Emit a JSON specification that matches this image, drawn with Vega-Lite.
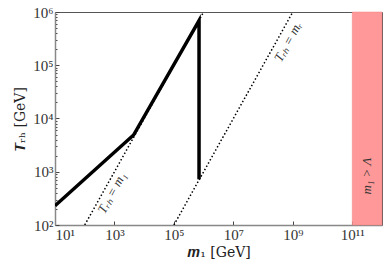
{
  "$schema": "https://vega.github.io/schema/vega-lite/v6.json",
  "width": 327,
  "height": 213,
  "autosize": {"type": "none"},
  "padding": {"left": 55, "top": 12, "right": 7, "bottom": 49},
  "background": "white",
  "config": {
    "view": {"stroke": "#555", "strokeWidth": 1},
    "axis": {
      "grid": false,
      "domainColor": "#888",
      "domainWidth": 1.5,
      "tickColor": "#444",
      "labelFont": "Liberation Serif",
      "labelFontSize": 15,
      "labelColor": "#333",
      "titleFont": "DejaVu Serif",
      "titleFontSize": 14,
      "titleFontWeight": "normal",
      "titleColor": "#222"
    }
  },
  "datasets": {
    "region": [{"m": 1e11, "m2": 1e12, "T": 100, "T2": 1000000}],
    "dotted": [
      {"s": "a", "m": 100, "T": 100},
      {"s": "a", "m": 1000000, "T": 1000000},
      {"s": "b", "m": 100000, "T": 100},
      {"s": "b", "m": 1000000000, "T": 1000000}
    ],
    "thick": [
      {"i": 1, "m": 10, "T": 230},
      {"i": 2, "m": 4400, "T": 4900},
      {"i": 3, "m": 700000, "T": 690000},
      {"i": 4, "m": 700000, "T": 720}
    ],
    "labels": [
      {"m": 830, "T": 400, "label": "Tᵣₕ = m₁", "a": 299},
      {"m": 700000000, "T": 275000, "label": "Tᵣₕ = mᵣ", "a": 299},
      {"m": 320000000000, "T": 830, "label": "m₁ > Λ", "a": 270}
    ]
  },
  "encoding": {
    "x": {
      "field": "m",
      "type": "quantitative",
      "scale": {"type": "log", "domain": [10, 1e12], "nice": false},
      "axis": {
        "title": "𝒎₁ [GeV]",
        "values": [10, 1000, 100000, 10000000, 1000000000, 100000000000],
        "labelExpr": "'10' + (['⁰','¹','²','³','⁴','⁵','⁶','⁷','⁸','⁹','¹⁰','¹¹','¹²'][round(log(datum.value)/LN10)])",
        "tickSize": -4,
        "labelPadding": 6,
        "titlePadding": 3
      }
    },
    "y": {
      "field": "T",
      "type": "quantitative",
      "scale": {"type": "log", "domain": [100, 1000000], "nice": false},
      "axis": {
        "title": "𝑻ᵣₕ [GeV]",
        "values": [100,200,300,400,500,600,700,800,900,1000,2000,3000,4000,5000,6000,7000,8000,9000,10000,20000,30000,40000,50000,60000,70000,80000,90000,100000,200000,300000,400000,500000,600000,700000,800000,900000,1000000],
        "labelExpr": "datum.value == pow(10, round(log(datum.value)/LN10)) ? '10' + (['⁰','¹','²','³','⁴','⁵','⁶','⁷','⁸','⁹'][round(log(datum.value)/LN10)]) : ''",
        "tickSize": {"condition": {"test": "datum.value == pow(10, round(log(datum.value)/LN10))", "value": -4}, "value": -2},
        "labelPadding": 6,
        "titlePadding": 5
      }
    }
  },
  "layer": [
    {
      "data": {"name": "region"},
      "mark": {"type": "rect", "color": "#ff9999", "stroke": "#f08080", "strokeWidth": 0.5},
      "encoding": {"x2": {"field": "m2"}, "y2": {"field": "T2"}}
    },
    {
      "data": {"name": "dotted"},
      "mark": {"type": "line", "color": "black", "strokeWidth": 1.5, "strokeDash": [1.5, 2.2], "clip": true},
      "encoding": {"detail": {"field": "s"}}
    },
    {
      "data": {"name": "thick"},
      "mark": {"type": "line", "color": "black", "strokeWidth": 3.5, "strokeJoin": "miter", "clip": true},
      "encoding": {"order": {"field": "i", "type": "quantitative"}}
    },
    {
      "data": {"name": "labels"},
      "mark": {"type": "text", "font": "Liberation Serif", "fontStyle": "italic", "fontSize": 13, "color": "#333"},
      "encoding": {"text": {"field": "label"}, "angle": {"field": "a", "type": "quantitative", "scale": null}}
    }
  ]
}
